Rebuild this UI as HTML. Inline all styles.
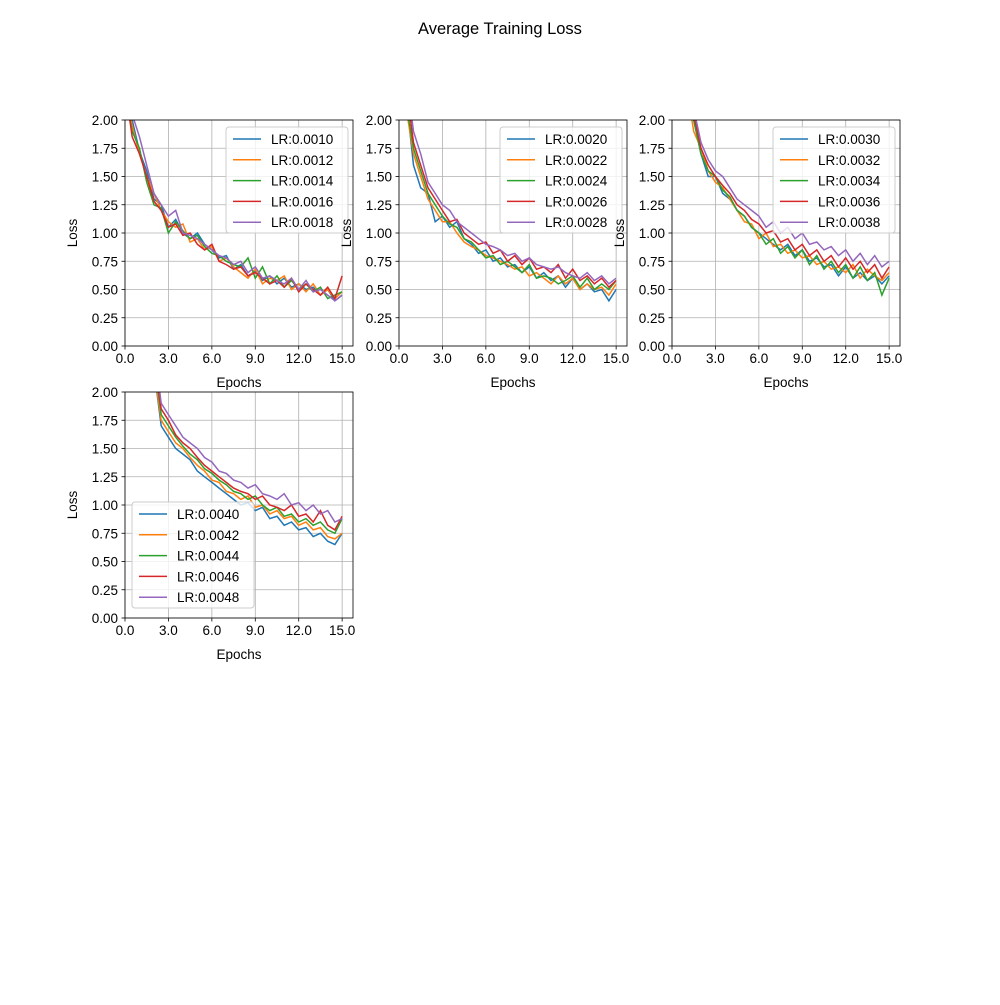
<!DOCTYPE html>
<html><head><meta charset="utf-8"><style>
body{margin:0;background:#fff;}
svg text{font-family:"Liberation Sans",sans-serif;font-size:13.5px;fill:#000;}
</style></head><body>
<svg id="fig" width="1000" height="1000" xmlns="http://www.w3.org/2000/svg">
<rect width="1000" height="1000" fill="#fff"/>
<text x="500" y="34" text-anchor="middle" style="font-size:16.5px">Average Training Loss</text>
</svg>
<script>
const epochs=[0,0.5,1,1.5,2,2.5,3,3.5,4,4.5,5,5.5,6,6.5,7,7.5,8,8.5,9,9.5,10,10.5,11,11.5,12,12.5,13,13.5,14,14.5,15];
const xTicks=[0,3,6,9,12,15];
const yTicks=[0,0.25,0.5,0.75,1,1.25,1.5,1.75,2];
const colors=["#1f77b4","#ff7f0e","#2ca02c","#d62728","#9467bd"];
const labels1=["LR:0.0010","LR:0.0012","LR:0.0014","LR:0.0016","LR:0.0018"];
const labels2=["LR:0.0020","LR:0.0022","LR:0.0024","LR:0.0026","LR:0.0028"];
const labels3=["LR:0.0030","LR:0.0032","LR:0.0034","LR:0.0036","LR:0.0038"];
const labels4=["LR:0.0040","LR:0.0042","LR:0.0044","LR:0.0046","LR:0.0048"];
const p1=[
[2.3,2.0,1.72,1.55,1.3,1.25,1.05,1.12,1.0,0.95,1.0,0.9,0.85,0.78,0.8,0.68,0.72,0.62,0.66,0.58,0.62,0.55,0.6,0.52,0.55,0.5,0.52,0.45,0.5,0.4,0.45],
[2.3,1.95,1.7,1.5,1.35,1.2,1.1,1.05,1.08,0.92,0.95,0.85,0.88,0.75,0.78,0.7,0.65,0.6,0.68,0.55,0.6,0.58,0.62,0.5,0.55,0.48,0.55,0.45,0.5,0.42,0.48],
[2.25,1.9,1.75,1.45,1.25,1.22,1.0,1.1,1.02,0.95,0.98,0.88,0.82,0.8,0.75,0.72,0.7,0.78,0.6,0.7,0.55,0.62,0.52,0.58,0.5,0.55,0.48,0.52,0.42,0.45,0.48],
[2.3,1.85,1.7,1.5,1.28,1.2,1.05,1.08,0.98,1.0,0.9,0.85,0.9,0.75,0.72,0.68,0.7,0.62,0.65,0.6,0.55,0.58,0.52,0.6,0.48,0.55,0.5,0.45,0.52,0.42,0.62],
[2.4,2.05,1.85,1.6,1.35,1.25,1.15,1.2,1.0,0.98,0.95,0.9,0.85,0.8,0.78,0.72,0.75,0.65,0.7,0.6,0.62,0.58,0.55,0.6,0.5,0.58,0.48,0.5,0.45,0.4,0.45]];
const p2=[
[2.5,2.2,1.6,1.4,1.35,1.1,1.15,1.05,1.1,0.95,0.9,0.82,0.85,0.75,0.78,0.7,0.72,0.65,0.7,0.6,0.65,0.58,0.62,0.52,0.6,0.5,0.55,0.48,0.5,0.4,0.5],
[2.5,2.1,1.7,1.5,1.3,1.2,1.1,1.1,1.0,0.92,0.88,0.85,0.8,0.78,0.75,0.72,0.68,0.7,0.62,0.65,0.6,0.55,0.62,0.55,0.6,0.5,0.55,0.5,0.52,0.45,0.55],
[2.5,2.15,1.75,1.55,1.35,1.25,1.15,1.08,1.05,0.95,0.92,0.85,0.78,0.8,0.72,0.75,0.7,0.65,0.72,0.6,0.62,0.6,0.55,0.58,0.62,0.52,0.6,0.5,0.55,0.5,0.58],
[2.6,2.3,1.8,1.6,1.4,1.3,1.2,1.1,1.12,1.0,0.95,0.9,0.92,0.82,0.85,0.75,0.8,0.72,0.78,0.68,0.7,0.65,0.72,0.6,0.68,0.58,0.62,0.55,0.6,0.52,0.58],
[2.6,2.4,1.9,1.7,1.45,1.35,1.25,1.2,1.1,1.05,1.0,0.95,0.9,0.88,0.85,0.8,0.82,0.75,0.78,0.72,0.7,0.68,0.7,0.65,0.62,0.6,0.65,0.58,0.62,0.55,0.6]];
const p3=[
[2.8,2.6,2.3,2.0,1.7,1.5,1.5,1.35,1.3,1.2,1.15,1.05,1.0,0.95,0.9,0.85,0.9,0.8,0.85,0.75,0.78,0.7,0.72,0.62,0.7,0.6,0.65,0.58,0.62,0.55,0.62],
[2.8,2.6,2.3,1.9,1.75,1.55,1.45,1.4,1.3,1.2,1.1,1.08,0.95,1.0,0.88,0.9,0.82,0.85,0.78,0.8,0.72,0.75,0.68,0.7,0.65,0.72,0.6,0.68,0.62,0.58,0.65],
[2.8,2.6,2.35,2.0,1.7,1.55,1.5,1.38,1.32,1.2,1.15,1.05,1.0,0.9,0.95,0.82,0.88,0.78,0.85,0.72,0.8,0.68,0.75,0.65,0.72,0.6,0.7,0.58,0.65,0.45,0.6],
[2.9,2.7,2.4,2.05,1.75,1.6,1.5,1.42,1.35,1.25,1.2,1.12,1.08,1.0,1.02,0.92,0.95,0.85,0.9,0.8,0.85,0.75,0.8,0.7,0.78,0.68,0.75,0.65,0.72,0.6,0.7],
[2.9,2.7,2.45,2.1,1.8,1.65,1.55,1.5,1.4,1.3,1.25,1.2,1.15,1.05,1.1,1.0,1.05,0.95,1.0,0.9,0.92,0.85,0.88,0.8,0.85,0.75,0.82,0.72,0.8,0.7,0.75]];
const p4=[
[3.2,3.0,2.8,2.5,2.2,1.7,1.6,1.5,1.45,1.4,1.3,1.25,1.2,1.15,1.1,1.05,1.0,1.02,0.95,0.98,0.88,0.9,0.82,0.85,0.78,0.8,0.72,0.75,0.68,0.65,0.75],
[3.2,3.0,2.8,2.5,2.2,1.75,1.65,1.55,1.5,1.42,1.35,1.3,1.22,1.2,1.12,1.1,1.05,1.08,0.98,1.0,0.92,0.95,0.88,0.9,0.82,0.85,0.78,0.8,0.72,0.7,0.75],
[3.3,3.1,2.9,2.6,2.3,1.8,1.7,1.6,1.52,1.45,1.4,1.32,1.28,1.22,1.18,1.12,1.1,1.05,1.08,1.0,0.95,0.98,0.9,0.92,0.85,0.88,0.82,0.85,0.78,0.75,0.88],
[3.3,3.1,2.9,2.6,2.3,1.85,1.75,1.62,1.55,1.5,1.42,1.35,1.3,1.25,1.2,1.15,1.12,1.1,1.05,1.08,1.0,0.98,0.95,1.0,0.9,0.92,0.85,0.95,0.82,0.78,0.9],
[3.4,3.2,3.0,2.7,2.4,1.9,1.8,1.7,1.6,1.55,1.5,1.42,1.38,1.3,1.28,1.22,1.2,1.15,1.18,1.1,1.08,1.05,1.1,1.0,1.02,0.95,1.0,0.92,0.95,0.85,0.88]];

const NS="http://www.w3.org/2000/svg";
const svg=document.getElementById('fig');
function mk(tag,attrs,parent){const e=document.createElementNS(NS,tag);for(const k in attrs)e.setAttribute(k,attrs[k]);(parent||svg).appendChild(e);return e;}
const XMAX=15.75;
function panel(idx,L,T,series,labels,leg){
  const W=228,H=226;
  const sx=v=>L+v/XMAX*W, sy=v=>T+H-v/2*H;
  const g=mk('g',{});
  
  
  const cid='clip'+idx;
  const cp=mk('clipPath',{id:cid},g);mk('rect',{x:L,y:T,width:W,height:H},cp);
  xTicks.forEach(t=>{
    const l=mk('line',{x1:sx(t),x2:sx(t),y1:T,y2:T+H,stroke:'#b0b0b0','stroke-width':0.8},g);
    
    
    mk('line',{x1:sx(t),x2:sx(t),y1:T+H,y2:T+H+3.5,stroke:'#000','stroke-width':0.8},g);
    const tx=mk('text',{x:sx(t),y:T+H+17,'text-anchor':'middle'},g);tx.textContent=t.toFixed(1);
    
    
  });
  yTicks.forEach(t=>{
    const l=mk('line',{x1:L,x2:L+W,y1:sy(t),y2:sy(t),stroke:'#b0b0b0','stroke-width':0.8},g);
    
    
    mk('line',{x1:L-3.5,x2:L,y1:sy(t),y2:sy(t),stroke:'#000','stroke-width':0.8},g);
    const tx=mk('text',{x:L-7,y:sy(t)+5,'text-anchor':'end'},g);tx.textContent=t.toFixed(2);
    
    
  });
  series.forEach((s,i)=>{
    const d=s.map((v,j)=>(j?'L':'M')+sx(epochs[j]).toFixed(1)+','+sy(v).toFixed(1)).join('');
    const p=mk('path',{d:d,fill:'none',stroke:colors[i],'stroke-width':1.5,'clip-path':'url(#'+cid+')'},g);
    
    
  });
  mk('rect',{x:L,y:T,width:W,height:H,fill:'none',stroke:'#000','stroke-width':0.8},g);
  const xl=mk('text',{x:L+W/2,y:T+H+41,'text-anchor':'middle'},g);xl.textContent='Epochs';
  
  
  const yl=mk('text',{x:L-53,y:T+H/2,'text-anchor':'middle',transform:'rotate(-90 '+(L-53)+' '+(T+H/2)+')',dy:5},g);yl.textContent='Loss';
  
  
  const lg=mk('g',{},g);
  
  
  mk('rect',{x:leg[0],y:leg[1],width:122,height:106,rx:3,fill:'#fff','fill-opacity':0.8,stroke:'#ccc','stroke-width':1},lg);
  labels.forEach((lb,i)=>{
    const y=leg[1]+12+i*20.8;
    mk('line',{x1:leg[0]+7,x2:leg[0]+35,y1:y,y2:y,stroke:colors[i],'stroke-width':1.5},lg);
    const t=mk('text',{x:leg[0]+45,y:y+5},lg);t.textContent=lb;
    
    
  });
}
panel(1,125,120,p1,labels1,[226,127]);
panel(2,399,120,p2,labels2,[500,127]);
panel(3,672,120,p3,labels3,[773,127]);
panel(4,125,392,p4,labels4,[132,502]);
</script>
</body></html>
